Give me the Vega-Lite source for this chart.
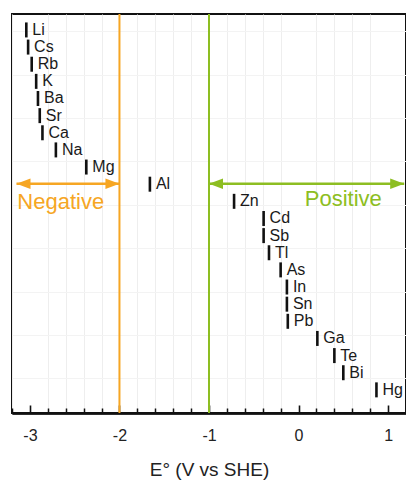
{
  "$schema": "https://vega.github.io/schema/vega-lite/v6.json",
  "width": 394,
  "height": 399,
  "autosize": "none",
  "padding": {"left": 12, "top": 14, "right": 0, "bottom": 69},
  "background": "white",
  "config": {
    "view": {"stroke": "#111111", "strokeWidth": 2},
    "font": "Liberation Sans",
    "axis": {"labelOverlap": false}
  },
  "resolve": {"scale": {"x": "shared"}, "axis": {"x": "independent"}},
  "datasets": {
    "elements": [
      {"name": "Li", "E": -3.04, "row": 0},
      {"name": "Cs", "E": -3.02, "row": 1},
      {"name": "Rb", "E": -2.98, "row": 2},
      {"name": "K", "E": -2.93, "row": 3},
      {"name": "Ba", "E": -2.91, "row": 4},
      {"name": "Sr", "E": -2.89, "row": 5},
      {"name": "Ca", "E": -2.86, "row": 6},
      {"name": "Na", "E": -2.71, "row": 7},
      {"name": "Mg", "E": -2.37, "row": 8},
      {"name": "Al", "E": -1.66, "row": 9},
      {"name": "Zn", "E": -0.72, "row": 10},
      {"name": "Cd", "E": -0.39, "row": 11},
      {"name": "Sb", "E": -0.39, "row": 12},
      {"name": "Tl", "E": -0.33, "row": 13},
      {"name": "As", "E": -0.2, "row": 14},
      {"name": "In", "E": -0.13, "row": 15},
      {"name": "Sn", "E": -0.13, "row": 16},
      {"name": "Pb", "E": -0.12, "row": 17},
      {"name": "Ga", "E": 0.21, "row": 18},
      {"name": "Te", "E": 0.4, "row": 19},
      {"name": "Bi", "E": 0.5, "row": 20},
      {"name": "Hg", "E": 0.87, "row": 21}
    ],
    "dividers": [
      {"side": "Negative", "E": -2},
      {"side": "Positive", "E": -1}
    ],
    "arrows": [
      {"side": "Negative", "x1": -3.15, "x2": -2.0, "row": 8.97},
      {"side": "Positive", "x1": -1.0, "x2": 1.18, "row": 8.97}
    ],
    "sidelabels": [
      {"side": "Negative", "x": -3.14, "row": 10.02},
      {"side": "Positive", "x": 0.07, "row": 9.88}
    ]
  },
  "layer": [
    {
      "data": {"name": "dividers"},
      "mark": {"type": "rule", "strokeWidth": 2},
      "encoding": {
        "x": {
          "field": "E",
          "type": "quantitative",
          "scale": {"domain": [-3.2, 1.2], "nice": false, "zero": false},
          "title": null,
          "axis": {
            "orient": "top",
            "offset": -399,
            "values": [-3.2, -2.8, -2.6, -2.4, -2.2, -1.8, -1.6, -1.4, -1.2, -0.8, -0.6, -0.4, -0.2, 0.2, 0.4, 0.6, 0.8, 1.2],
            "labels": false,
            "domain": true,
            "domainColor": "#111111",
            "domainWidth": 2,
            "ticks": true,
            "tickColor": "#111111",
            "tickOpacity": 1,
            "tickWidth": 1.5,
            "tickSize": 5,
            "grid": true,
            "gridColor": "#eeeeee",
            "gridWidth": 1,
            "title": null
          }
        },
        "color": {
          "field": "side",
          "type": "nominal",
          "scale": {"domain": ["Negative", "Positive"], "range": ["#F6A623", "#8DBE22"]},
          "legend": null
        }
      }
    },
    {
      "data": {"name": "arrows"},
      "mark": {"type": "rule", "strokeWidth": 2.5},
      "encoding": {
        "x": {"field": "x1", "type": "quantitative", "axis": null},
        "x2": {"field": "x2"},
        "y": {
          "field": "row",
          "type": "quantitative",
          "scale": {"domain": [-0.93, 22.35], "reverse": true, "nice": false, "zero": false},
          "title": null,
          "axis": {
            "values": [0.08, 1.34, 2.61, 3.87, 5.14, 6.41, 7.67, 8.94, 10.2, 11.47, 12.74, 14.0, 15.27, 16.54, 17.8, 19.07, 20.33, 21.6],
            "labels": false,
            "ticks": false,
            "domain": false,
            "grid": true,
            "gridColor": "#f3f3f3",
            "title": null
          }
        },
        "color": {"field": "side", "type": "nominal", "legend": null}
      }
    },
    {
      "data": {"name": "arrows"},
      "mark": {"type": "point", "filled": true, "opacity": 1, "size": 196, "shape": "M0,0L2,-0.75L2,0.75Z"},
      "encoding": {
        "x": {"field": "x1", "type": "quantitative", "axis": null},
        "y": {"field": "row", "type": "quantitative", "title": null},
        "color": {"field": "side", "type": "nominal", "legend": null}
      }
    },
    {
      "data": {"name": "arrows"},
      "mark": {"type": "point", "filled": true, "opacity": 1, "size": 196, "shape": "M0,0L-2,-0.75L-2,0.75Z"},
      "encoding": {
        "x": {"field": "x2", "type": "quantitative", "axis": null},
        "y": {"field": "row", "type": "quantitative", "title": null},
        "color": {"field": "side", "type": "nominal", "legend": null}
      }
    },
    {
      "data": {"name": "sidelabels"},
      "mark": {"type": "text", "align": "left", "baseline": "middle", "fontSize": 22, "font": "Liberation Sans"},
      "encoding": {
        "x": {"field": "x", "type": "quantitative", "axis": null},
        "y": {"field": "row", "type": "quantitative", "title": null},
        "text": {"field": "side"},
        "color": {"field": "side", "type": "nominal", "legend": null}
      }
    },
    {
      "data": {"name": "elements"},
      "mark": {"type": "tick", "orient": "vertical", "size": 15, "thickness": 2.6, "color": "#111111", "opacity": 1},
      "encoding": {
        "x": {
          "field": "E",
          "type": "quantitative",
          "title": null,
          "axis": {
            "orient": "top",
            "offset": -399,
            "values": [-3, -2, -1, 0, 1],
            "labels": false,
            "domain": true,
            "domainColor": "#111111",
            "domainWidth": 2,
            "ticks": true,
            "tickColor": "#111111",
            "tickOpacity": 1,
            "tickWidth": 1.6,
            "tickSize": 8,
            "grid": false,
            "title": null
          }
        },
        "y": {"field": "row", "type": "quantitative", "title": null}
      }
    },
    {
      "data": {"name": "elements"},
      "mark": {"type": "text", "align": "left", "baseline": "middle", "dx": 6, "fontSize": 16, "font": "Liberation Sans", "color": "#1a1a1a"},
      "encoding": {
        "x": {
          "field": "E",
          "type": "quantitative",
          "title": "E° (V vs SHE)",
          "axis": {
            "orient": "bottom",
            "values": [-3, -2, -1, 0, 1],
            "labelExpr": "'' + datum.value",
            "labelOverlap": false,
            "labelFontSize": 16,
            "labelColor": "#222222",
            "labelFont": "Liberation Sans",
            "labelPadding": 14,
            "labelFlush": false,
            "domainColor": "#111111",
            "domainWidth": 2,
            "ticks": false,
            "grid": false,
            "titleFontSize": 19,
            "titleFont": "Liberation Sans",
            "titleFontWeight": "normal",
            "titleColor": "#222222",
            "titlePadding": 17
          }
        },
        "y": {"field": "row", "type": "quantitative", "title": null},
        "text": {"field": "name"}
      }
    }
  ]
}
